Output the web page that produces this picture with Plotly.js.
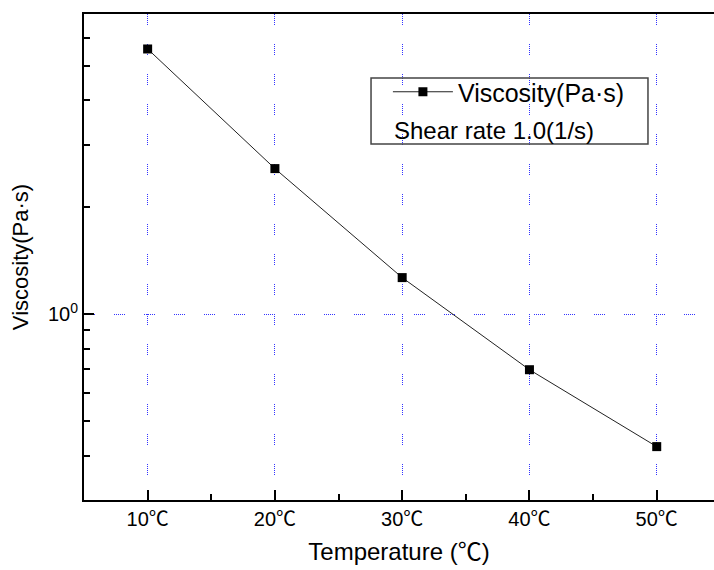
<!DOCTYPE html>
<html>
<head>
<meta charset="utf-8">
<script src="https://cdn.plot.ly/plotly-3.0.1.min.js"></script>
<style>
html,body{margin:0;padding:0;background:#fff;overflow:hidden;}
#chart{width:714px;height:570px;}
</style>
</head>
<body>
<div id="chart"></div>
<script>
// Data
const temperatures = [10, 20, 30, 40, 50];
const viscosity = [5.58, 2.57, 1.268, 0.698, 0.424];
const xTickVals = [10, 20, 30, 40, 50];
const xTickText = ['10℃', '20℃', '30℃', '40℃', '50℃'];
const xMinorVals = [15, 25, 35, 45];
const yTickVals = [1];
const yTickText = ['10<sup>0</sup>'];
const yMinorVals = [0.4, 0.5, 0.6, 0.7, 0.8, 0.9, 2, 3, 4, 5, 6];
const seriesName = 'Viscosity(Pa·s)';
const noteText = 'Shear rate 1.0(1/s)';
const xTitle = 'Temperature (℃)';
const yTitle = 'Viscosity(Pa·s)';

const FONT = '"Liberation Sans", Arial, "Noto Sans CJK JP", sans-serif';
const gridDash = '1px,1px,1px,1px,1px,1px,1px,1px,1px,1px,1px,19px';

const trace = {
  x: temperatures,
  y: viscosity,
  type: 'scatter',
  mode: 'lines+markers',
  name: seriesName,
  line: {color: '#222', width: 1},
  marker: {symbol: 'square', size: 9, color: '#000'}
};

const layout = {
  width: 714,
  height: 570,
  margin: {l: 84, r: 0, t: 14, b: 70},
  paper_bgcolor: '#fff',
  plot_bgcolor: '#fff',
  font: {family: FONT, color: '#000'},
  showlegend: true,
  legend: {
    x: 0.4824, xanchor: 'left',
    y: 0.8395, yanchor: 'middle',
    bgcolor: 'rgba(0,0,0,0)',
    borderwidth: 0,
    itemwidth: 60,
    font: {size: 25, family: FONT, color: '#000'}
  },
  xaxis: {
    range: [5, 54.5],
    tickmode: 'array',
    tickvals: xTickVals,
    ticktext: xTickText,
    ticks: 'inside',
    ticklen: 10,
    tickwidth: 2,
    tickcolor: '#000',
    showline: true,
    linewidth: 2,
    linecolor: '#000',
    mirror: true,
    showgrid: true,
    gridcolor: '#3333ff',
    gridwidth: 1,
    griddash: gridDash,
    zeroline: false,
    tickfont: {size: 20, family: FONT},
    minor: {
      tickmode: 'array',
      tickvals: xMinorVals,
      ticks: 'inside',
      ticklen: 6,
      tickwidth: 2,
      tickcolor: '#000',
      showgrid: false
    },
    title: {text: xTitle, font: {size: 24, family: FONT}, standoff: 14}
  },
  yaxis: {
    type: 'log',
    range: [Math.log10(0.3), Math.log10(7)],
    tickmode: 'array',
    tickvals: yTickVals,
    ticktext: yTickText,
    ticks: 'inside',
    ticklen: 10,
    tickwidth: 2,
    tickcolor: '#000',
    showline: true,
    linewidth: 2,
    linecolor: '#000',
    mirror: false,
    showgrid: true,
    gridcolor: '#3333ff',
    gridwidth: 1,
    griddash: gridDash,
    zeroline: false,
    tickfont: {size: 20, family: FONT},
    minor: {
      tickmode: 'array',
      tickvals: yMinorVals,
      ticks: 'inside',
      ticklen: 6,
      tickwidth: 2,
      tickcolor: '#000',
      showgrid: false
    },
    title: {text: yTitle, font: {size: 22, family: FONT}, standoff: 13}
  },
  shapes: [{
    type: 'rect', xref: 'paper', yref: 'paper',
    x0: 0.4556, x1: 0.8952, y0: 0.7325, y1: 0.8683,
    line: {color: '#444', width: 1.5},
    fillcolor: 'rgba(0,0,0,0)'
  }],
  annotations: [{
    xref: 'paper', yref: 'paper',
    x: 0.489, xanchor: 'left',
    y: 0.761, yanchor: 'middle',
    text: noteText,
    showarrow: false,
    font: {size: 24, family: FONT, color: '#000'}
  }]
};

Plotly.newPlot('chart', [trace], layout, {displayModeBar: false, staticPlot: true});
</script>
</body>
</html>
